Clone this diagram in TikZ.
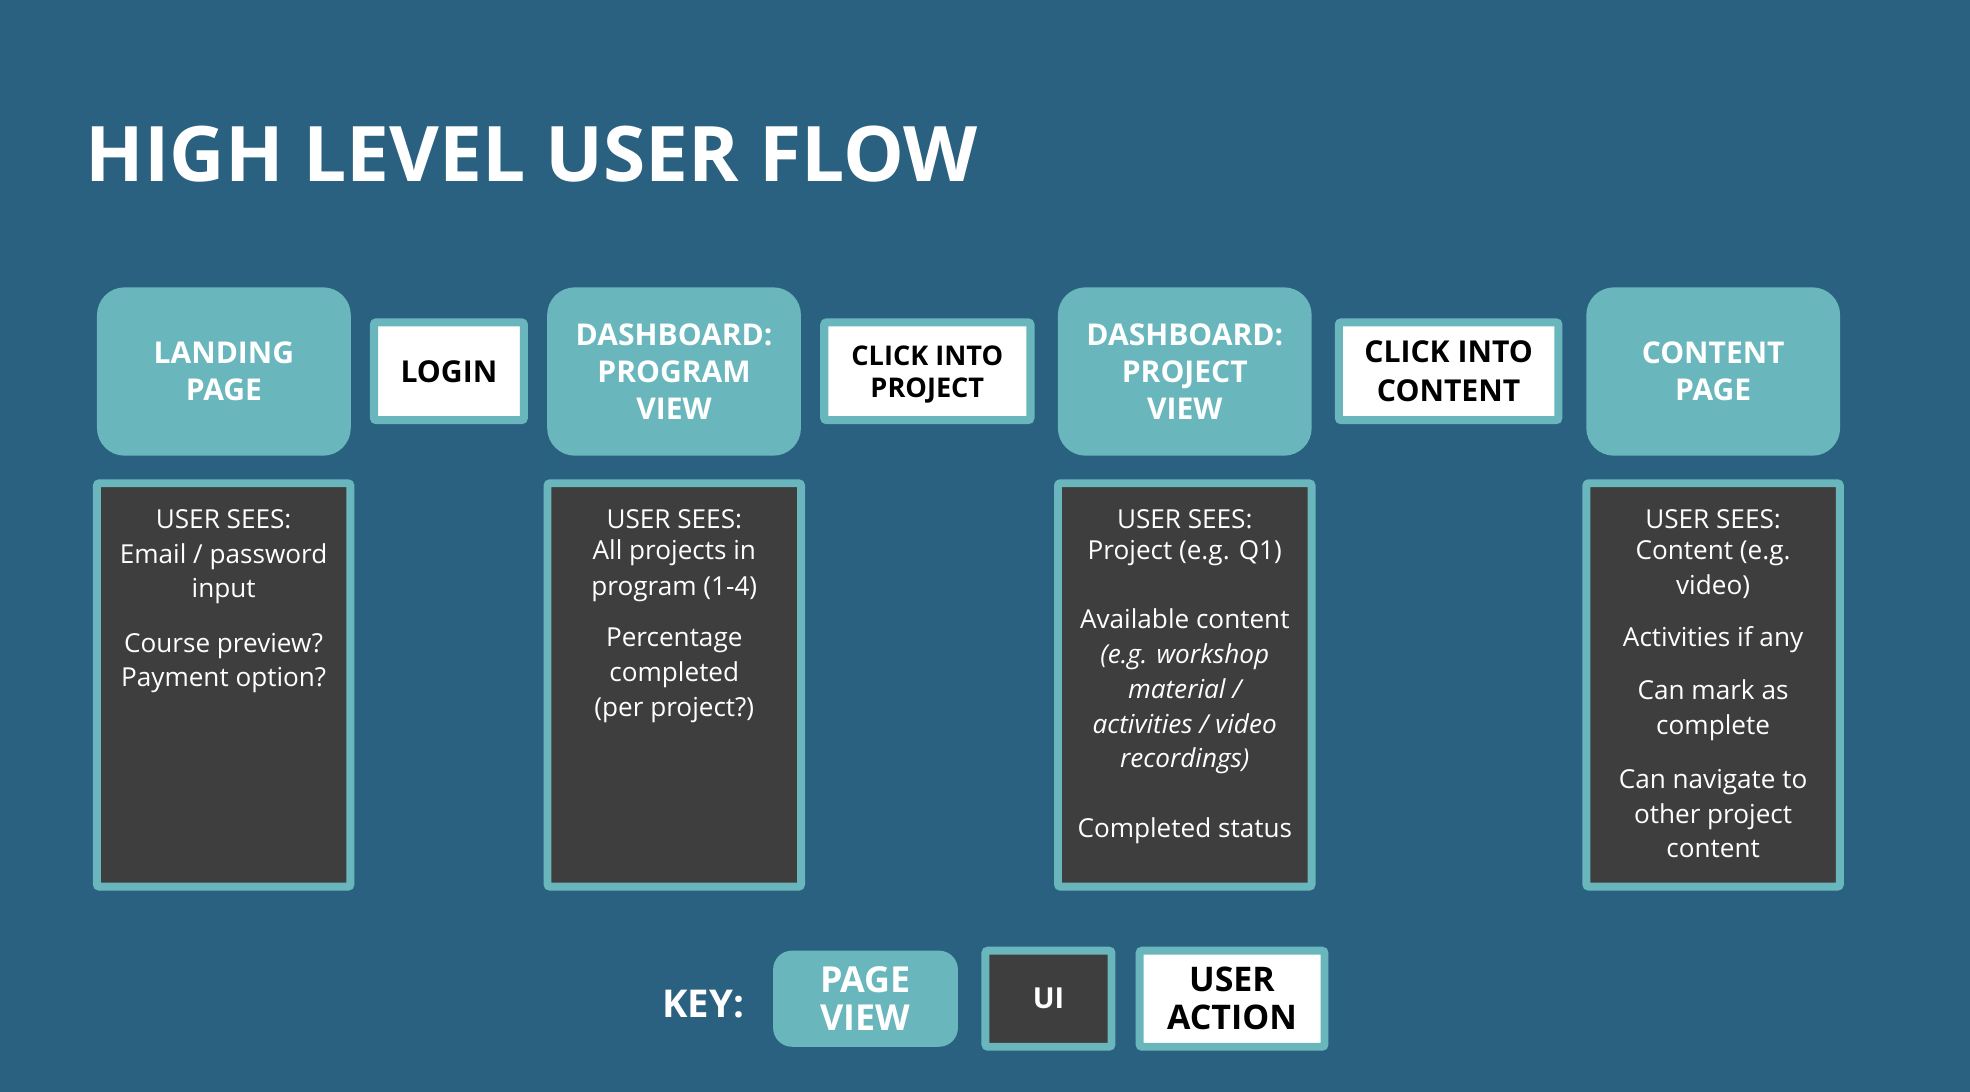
\documentclass[tikz,border=0pt]{standalone}
\usepackage{fontspec}
\setmainfont{Open Sans}
\definecolor{bgc}{HTML}{2A6180}
\definecolor{tealc}{HTML}{69B7BD}
\definecolor{darkc}{HTML}{3E3E3E}
\begin{document}
\begin{tikzpicture}[x=1pt,y=-1pt,
 pagebox/.style={fill=tealc, rounded corners=22pt, minimum width=202pt, minimum height=134pt, text=white, align=center, inner sep=0pt, font=\bfseries\fontsize{23.9}{29.7}\selectfont},
 actbox/.style={draw=tealc, line width=6.5pt, fill=white, rounded corners=2pt, minimum height=77.8pt, text=black, align=center, inner sep=0pt, font=\bfseries\fontsize{21.6}{25.7}\selectfont},
 uibox/.style={draw=tealc, line width=6.3pt, fill=darkc, rounded corners=2pt, minimum width=201.8pt, minimum height=321.1pt, inner sep=0pt},
 uitext/.style={text=white, anchor=base, inner sep=0pt, font=\fontsize{20.8}{25}\selectfont},
 keytext/.style={font=\bfseries\fontsize{28.5}{30.5}\selectfont, align=center, inner sep=0pt},
]
\useasboundingbox (0,0) rectangle (1568,869);
\fill[bgc] (0,0) rectangle (1568,869);

% title
\node[anchor=base west, inner sep=0pt, text=white, font=\bfseries\fontsize{61}{61}\selectfont] (title) at (68,144.6) {HIGH LEVEL USER FLOW};

% page views
\node[pagebox] (landing) at (178.2,295.7) {LANDING\\PAGE};
\node[pagebox] (dprog) at (536.5,295.7) {DASHBOARD:\\PROGRAM\\VIEW};
\node[pagebox] (dproj) at (943,295.7) {DASHBOARD:\\PROJECT\\VIEW};
\node[pagebox] (content) at (1363.6,295.7) {CONTENT\\PAGE};

% user actions
\node[actbox, minimum width=119.3pt, font=\bfseries\fontsize{24}{26}\selectfont] (login) at (357.3,295.5) {LOGIN};
\node[actbox, minimum width=164.1pt] (cproj) at (738.1,295.5) {};
\node[align=center, inner sep=0pt, font=\bfseries\fontsize{21.6}{25.7}\selectfont] (cprojt) at (738.1,298) {CLICK INTO\\PROJECT};
\node[actbox, minimum width=174.7pt, font=\bfseries\fontsize{24}{30.5}\selectfont] (ccont) at (1153,295.5) {CLICK INTO\\CONTENT};

% UI boxes
\node[uibox] (ui1) at (178,545.2) {};
\node[uibox] (ui2) at (536.7,545.2) {};
\node[uibox] (ui3) at (943,545.2) {};
\node[uibox] (ui4) at (1363.5,545.2) {};

\foreach \t/\y [count=\i] in {USER SEES:/420.5, {Email / password}/448.4, input/475.7, {Course preview?}/519.2, {Payment option?}/546.6}
  \node[uitext] (ua\i) at (178,\y) {\t};
\foreach \t/\y [count=\i] in {USER SEES:/420.5, {All projects in}/445.2, {program (1-4)}/473.6, Percentage/514.7, completed/542.6, {(per project?)}/570.4}
  \node[uitext] (ub\i) at (536.7,\y) {\t};
\foreach \t/\y [count=\i] in {USER SEES:/420.5, {Project (e.g. Q1)}/445.7, {Available content}/500.1, {{\itshape (e.g. workshop}}/527.9, {{\itshape material /}}/555.8, {{\itshape activities / video}}/583.7, {{\itshape recordings)}}/611.0, {Completed status}/666.7}
  \node[uitext] (uc\i) at (943,\y) {\t};
\foreach \t/\y [count=\i] in {USER SEES:/420.5, {Content (e.g.}/445.7, {video)}/472.8, {Activities if any}/514.7, {Can mark as}/557.1, complete/585.0, {Can navigate to}/627.4, {other project}/655.3, content/682.6}
  \node[uitext] (ud\i) at (1363.5,\y) {\t};

% key
\node[keytext, anchor=base west, text=white, font=\bfseries\fontsize{30.5}{30.5}\selectfont] (key) at (527,809.7) {KEY:};
\node[keytext, fill=tealc, rounded corners=15pt, minimum width=147.1pt, minimum height=76.5pt, text=white] (kpage) at (688.9,794.9) {PAGE\\VIEW};
\node[keytext, draw=tealc, line width=6.3pt, fill=darkc, rounded corners=2pt, minimum width=100.3pt, minimum height=76.5pt, text=white, font=\bfseries\fontsize{23}{25}\selectfont] (kui) at (834.5,794.9) {UI};
\node[keytext, draw=tealc, line width=6.3pt, fill=white, rounded corners=2pt, minimum width=147.2pt, minimum height=76.5pt, text=black, font=\bfseries\fontsize{27}{30.5}\selectfont] (kact) at (980.6,794.9) {USER\\ACTION};
\end{tikzpicture}
\end{document}
